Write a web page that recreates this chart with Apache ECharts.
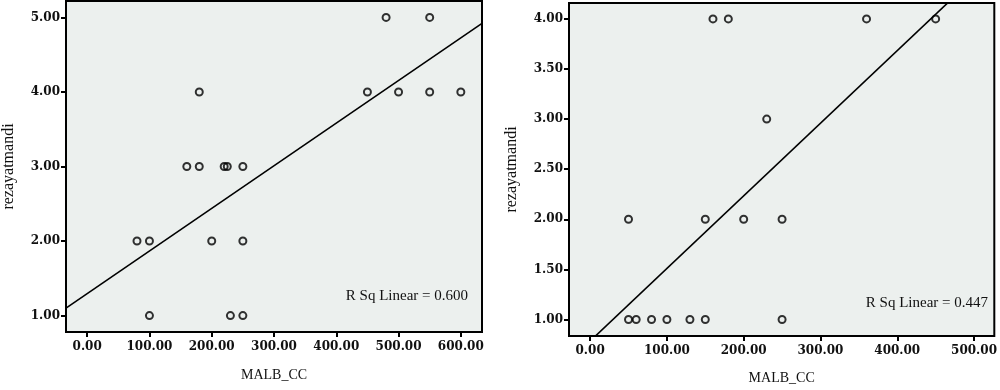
<!DOCTYPE html>
<html>
<head>
<meta charset="utf-8">
<script src="https://cdn.jsdelivr.net/npm/echarts@6/dist/echarts.min.js"></script>
<style>
html,body{margin:0;padding:0;background:#fff;}
#c{width:1000px;height:390px;}
</style>
</head>
<body>
<div id="c"></div>
<script>
// Left panel data
const leftX = [180, 450, 500, 550, 600, 480, 550, 160, 180, 220, 225, 250, 80, 100, 200, 250, 100, 230, 250];
const leftY = [4, 4, 4, 4, 4, 5, 5, 3, 3, 3, 3, 3, 2, 2, 2, 2, 1, 1, 1];
const leftFitX = [-34, 634];
const leftFitY = [1.10, 4.92];
const leftXTicks = [0, 100, 200, 300, 400, 500, 600];
const leftYTicks = [1, 2, 3, 4, 5];
const leftR2 = 'R Sq Linear = 0.600';

// Right panel data
const rightX = [160, 180, 360, 450, 230, 50, 150, 200, 250, 50, 60, 80, 100, 130, 150, 250];
const rightY = [4, 4, 4, 4, 3, 2, 2, 2, 2, 1, 1, 1, 1, 1, 1, 1];
const rightFitX = [-27.5, 526.4];
const rightFitY = [0.585, 4.60];
const rightXTicks = [0, 100, 200, 300, 400, 500];
const rightYTicks = [1, 1.5, 2, 2.5, 3, 3.5, 4];
const rightR2 = 'R Sq Linear = 0.447';

const xTitle = 'MALB_CC';
const yTitle = 'rezayatmandi';

const serif = 'Liberation Serif';
const tickFont = 'DejaVu Serif';

function zip(a, b) { return a.map((v, i) => [v, b[i]]); }

function xAxis(gi, min, max, ticks, gap) {
  return {
    gridIndex: gi, type: 'value', min: min, max: max,
    splitLine: { show: false },
    axisLine: { show: false, onZero: false },
    axisTick: { show: true, inside: false, length: 5, customValues: ticks, lineStyle: { color: '#000', width: 2 } },
    axisLabel: { show: true, customValues: ticks, margin: 9, color: '#111', fontFamily: tickFont, fontSize: 12, fontWeight: 'bold',
      formatter: v => v.toFixed(2) },
    name: xTitle, nameLocation: 'middle', nameGap: gap,
    nameTextStyle: { fontFamily: serif, fontSize: 14, color: '#111' }
  };
}
function yAxis(gi, min, max, ticks, gap) {
  return {
    gridIndex: gi, type: 'value', min: min, max: max,
    splitLine: { show: false },
    axisLine: { show: false, onZero: false },
    axisTick: { show: true, inside: false, length: 5, customValues: ticks, lineStyle: { color: '#000', width: 2 } },
    axisLabel: { show: true, customValues: ticks, margin: 6, color: '#111', fontFamily: tickFont, fontSize: 12, fontWeight: 'bold',
      formatter: v => v.toFixed(2) },
    name: yTitle, nameLocation: 'middle', nameGap: gap, nameRotate: 90,
    nameTextStyle: { fontFamily: serif, fontSize: 16, color: '#111' }
  };
}
function scatter(i, xs, ys) {
  return {
    type: 'scatter', xAxisIndex: i, yAxisIndex: i, data: zip(xs, ys),
    symbol: 'circle', symbolSize: 7,
    itemStyle: { color: 'rgba(0,0,0,0)', borderColor: '#000', borderWidth: 2 },
    silent: true, z: 3
  };
}
function fit(i, xs, ys) {
  return {
    type: 'line', xAxisIndex: i, yAxisIndex: i, data: zip(xs, ys),
    symbol: 'none', clip: true,
    lineStyle: { color: '#000', width: 1.6 }, silent: true, z: 2
  };
}

const chart = echarts.init(document.getElementById('c'), null, { renderer: 'canvas' });
chart.setOption({
  animation: false,
  backgroundColor: '#fff',
  grid: [
    { left: 57, top: 1, width: 425, height: 331, show: true, backgroundColor: '#ecf0ee', borderColor: '#000', borderWidth: 2 },
    { left: 569, top: 3, width: 429, height: 335, show: true, backgroundColor: '#ecf0ee', borderColor: '#000', borderWidth: 2 }
  ],
  xAxis: [
    xAxis(0, -34, 634, leftXTicks, 36),
    xAxis(1, -27.5, 526.4, rightXTicks, 35)
  ],
  yAxis: [
    yAxis(0, 0.78, 5.22, leftYTicks, 49),
    yAxis(1, 0.835, 4.159, rightYTicks, 49)
  ],
  series: [
    fit(0, leftFitX, leftFitY),
    scatter(0, leftX, leftY),
    fit(1, rightFitX, rightFitY),
    scatter(1, rightX, rightY)
  ],
  graphic: [
    { type: 'text', right: 1000 - 468, top: 289, style: { text: leftR2, fontFamily: serif, fontSize: 15, fill: '#111', align: 'right' } },
    { type: 'text', right: 1000 - 988, top: 296, style: { text: rightR2, fontFamily: serif, fontSize: 15, fill: '#111', align: 'right' } }
  ]
});
</script>
</body>
</html>
